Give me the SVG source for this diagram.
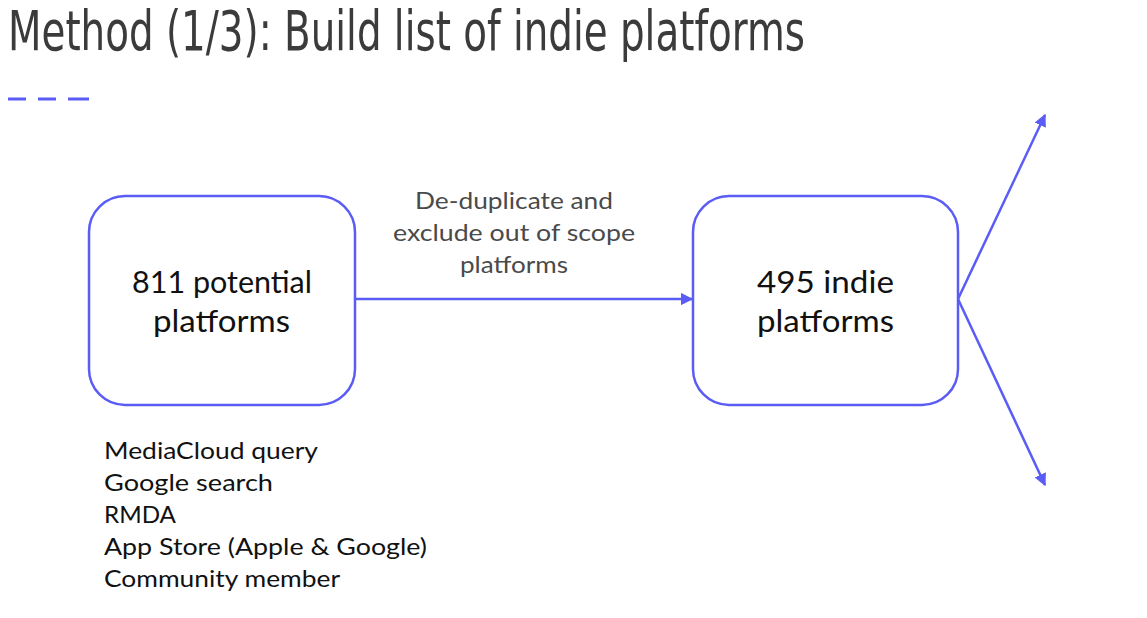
<svg xmlns="http://www.w3.org/2000/svg" width="1147" height="618" viewBox="0 0 1147 618">
  <style>
    .title { font-family: "DejaVu Sans Condensed", "DejaVu Sans", sans-serif; font-stretch: condensed; font-size: 55px; fill: #3b3b3b; }
    .node { fill: #ffffff; stroke: #5b5cf6; stroke-width: 2.5; }
    .nodeText { font-family: Lato, "Liberation Sans", sans-serif; font-size: 30px; fill: #111111; }
    .label { font-family: Lato, "Liberation Sans", sans-serif; font-size: 22.5px; fill: #4a4a4a; }
    .list { font-family: Lato, "Liberation Sans", sans-serif; font-size: 24px; fill: #111111; }
    .edge { fill: none; stroke: #5b5cf6; stroke-width: 2.5; }
  </style>
  <defs>
    <marker id="arrow" viewBox="0 0 10 10" refX="9" refY="5" markerWidth="5" markerHeight="5" orient="auto" markerUnits="strokeWidth">
      <path d="M0,0 L10,5 L0,10 z" fill="#5b5cf6"/>
    </marker>
  </defs>

  <rect width="1147" height="618" fill="#ffffff"/>

  <text class="title" x="8" y="50" textLength="797" lengthAdjust="spacingAndGlyphs">Method (1/3): Build list of indie platforms</text>
  <path d="M8,99 H26 M38,99 H56 M68,99 H89" stroke="#5b5cf6" stroke-width="3" fill="none"/>

  <g id="connectors">
    <line class="edge" x1="355" y1="299" x2="692" y2="299" marker-end="url(#arrow)"/>
    <line class="edge" x1="958" y1="299" x2="1045" y2="115" marker-end="url(#arrow)"/>
    <line class="edge" x1="958" y1="299" x2="1045" y2="485" marker-end="url(#arrow)"/>
    <text class="label" x="415" y="209" textLength="198" lengthAdjust="spacingAndGlyphs">De-duplicate and</text>
    <text class="label" x="393" y="241" textLength="242" lengthAdjust="spacingAndGlyphs">exclude out of scope</text>
    <text class="label" x="460" y="273" textLength="108" lengthAdjust="spacingAndGlyphs">platforms</text>
  </g>

  <g id="potential">
    <rect class="node" x="89" y="196" width="266" height="209" rx="36"/>
    <text class="nodeText" x="132" y="293" textLength="180" lengthAdjust="spacingAndGlyphs">811 potential</text>
    <text class="nodeText" x="153" y="332" textLength="137" lengthAdjust="spacingAndGlyphs">platforms</text>
  </g>

  <g id="indie">
    <rect class="node" x="693" y="196" width="265" height="209" rx="36"/>
    <text class="nodeText" x="757" y="293" textLength="137" lengthAdjust="spacingAndGlyphs">495 indie</text>
    <text class="nodeText" x="757" y="332" textLength="137" lengthAdjust="spacingAndGlyphs">platforms</text>
  </g>

  <g id="sources">
    <text class="list" x="104" y="459" textLength="214" lengthAdjust="spacingAndGlyphs">MediaCloud query</text>
    <text class="list" x="104" y="491" textLength="169" lengthAdjust="spacingAndGlyphs">Google search</text>
    <text class="list" x="104" y="523" textLength="72" lengthAdjust="spacingAndGlyphs">RMDA</text>
    <text class="list" x="104" y="555" textLength="323" lengthAdjust="spacingAndGlyphs">App Store (Apple &amp; Google)</text>
    <text class="list" x="104" y="587" textLength="236" lengthAdjust="spacingAndGlyphs">Community member</text>
  </g>
</svg>
